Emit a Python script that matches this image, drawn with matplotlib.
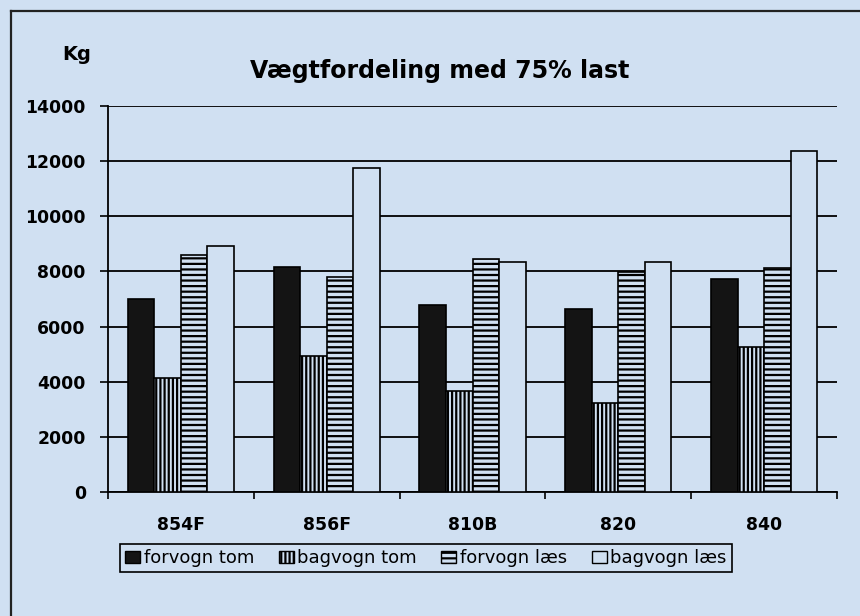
import numpy as np
import matplotlib
matplotlib.use('Agg')
import matplotlib.pyplot as plt
from matplotlib.patches import Patch
from matplotlib.lines import Line2D

plt.rcParams['font.family'] = ['DejaVu Sans']
plt.rcParams['hatch.linewidth'] = 1.6

# data
categories = ['854F', '856F', '810B', '820', '840']
series_names = ['forvogn tom', 'bagvogn tom', 'forvogn læs', 'bagvogn læs']
forvogn_tom = [7000, 8160, 6770, 6650, 7740]
bagvogn_tom = [4120, 4930, 3660, 3240, 5250]
forvogn_laes = [8600, 7790, 8440, 7990, 8140]
bagvogn_laes = [8930, 11750, 8350, 8350, 12380]
y_ticks = [0, 2000, 4000, 6000, 8000, 10000, 12000, 14000]

bg = '#d0e0f2'
fig = plt.figure(figsize=(8.6, 6.16), dpi=100, facecolor=bg)
ax = fig.add_axes([0.1256, 0.2013, 0.8477, 0.6266])
ax.set_facecolor(bg)

x = np.arange(len(categories))
w = 0.182
styles = [
    dict(color='#141414', hatch=None),
    dict(color=bg, hatch='||||'),
    dict(color=bg, hatch='---'),
    dict(color=bg, hatch=None),
]
all_series = [forvogn_tom, bagvogn_tom, forvogn_laes, bagvogn_laes]
handles = []
for i, (vals, st) in enumerate(zip(all_series, styles)):
    ax.bar(x + (i - 1.5) * w, vals, width=w, facecolor=st['color'],
           edgecolor='black', linewidth=1.2, hatch=st['hatch'], zorder=3)
    handles.append(Patch(facecolor=st['color'], edgecolor='black',
                         linewidth=1.0, hatch=st['hatch'], label=series_names[i]))

ax.set_xlim(-0.5, len(categories) - 0.5)
ax.set_ylim(0, 14000)
ax.set_yticks(y_ticks)
ax.set_yticklabels([str(v) for v in y_ticks], fontsize=12.4, fontweight='bold')
ax.set_xticks(x)
ax.set_xticklabels(categories, fontsize=12.4, fontweight='bold')
ax.set_xticks(np.arange(-0.5, len(categories)), minor=True)
ax.tick_params(axis='x', which='major', length=0, pad=17)
ax.tick_params(axis='x', which='minor', length=5, width=1.2, direction='out')
ax.tick_params(axis='y', length=6, width=1.2, pad=10)
ax.grid(axis='y', color='black', linewidth=1.3, zorder=0)
ax.set_axisbelow(True)
for s in ['top', 'right']:
    ax.spines[s].set_visible(False)
for s in ['left', 'bottom']:
    ax.spines[s].set_linewidth(1.3)

fig.text(77 / 860, 1 - 60 / 616, 'Kg', fontsize=14, fontweight='bold',
         ha='center', va='baseline')
fig.text(440 / 860, 1 - 78 / 616, 'Vægtfordeling med 75% last', fontsize=17,
         fontweight='bold', ha='center', va='baseline')

leg = fig.legend(handles=handles, loc='center', ncol=4,
                 bbox_to_anchor=(426 / 860, 1 - 558 / 616),
                 fontsize=13, frameon=True, fancybox=False, edgecolor='black',
                 facecolor=bg, framealpha=1, handlelength=0.83, handleheight=0.67,
                 handletextpad=0.2, columnspacing=1.35, borderpad=0.3,
                 borderaxespad=0)
leg.get_frame().set_linewidth(1.2)

# outer frame (left and top only visible)
fig.add_artist(Line2D([11 / 860, 11 / 860], [0, 1 - 11 / 616], color='#222222', linewidth=1.6))
fig.add_artist(Line2D([11 / 860, 1], [1 - 11 / 616, 1 - 11 / 616], color='#222222', linewidth=1.6))

fig.savefig('out.png', dpi=100, facecolor=bg)
plt.close()
